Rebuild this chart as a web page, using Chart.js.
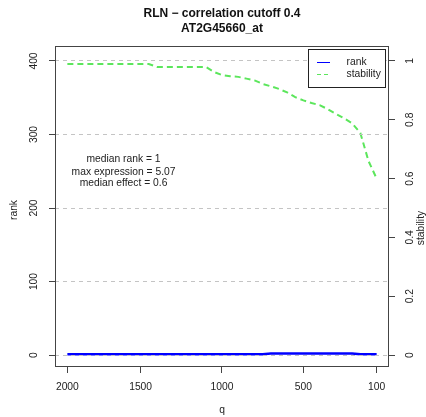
<!DOCTYPE html>
<html><head><meta charset="utf-8">
<script src="https://cdn.jsdelivr.net/npm/chart.js@4/dist/chart.umd.min.js"></script>
<style>html,body{margin:0;padding:0;background:#fff;}canvas{display:block;}</style>
</head><body>
<canvas id="c" width="426" height="417"></canvas>
<script>
// ---- data ----
const titleLines = ['RLN \u2212 correlation cutoff 0.4', 'AT2G45660_at'];
const qTickLabels = ['2000', '1500', '1000', '500', '100'];
const qTickIndex = [0, 9, 19, 29, 38];
const rankValues = [1,1,1,1,1,1,1,1,1,1, 1,1,1,1,1,1,1,1,1,1, 1,1,1,1,1,2,2,2,2,2, 2,2,2,2,2,2,1,1,1];
const stabilityValues = [0.99,0.99,0.99,0.99,0.99,0.99,0.99,0.99,0.99,0.99,
  0.99,0.98,0.98,0.98,0.98,0.98,0.98,0.98,0.963,0.952,
  0.948,0.946,0.94,0.934,0.922,0.914,0.905,0.893,0.877,0.866,
  0.857,0.85,0.836,0.82,0.805,0.788,0.755,0.66,0.60];
const rankTicks = [0, 100, 200, 300, 400];
const stabilityTicks = [0, 0.2, 0.4, 0.6, 0.8, 1];
const stabilityTickLabels = ['0', '0.2', '0.4', '0.6', '0.8', '1'];
const noteLines = ['median rank = 1', 'max expression = 5.07', 'median effect = 0.6'];
const seriesNames = ['rank', 'stability'];
const axisTitles = {x: 'q', y: 'rank', y2: 'stability'};

// ---- layout constants ----
const FONT = '"Liberation Sans", Arial, sans-serif';
const TXT = '#222';
const idx = rankValues.map((_, i) => i);
const noteIndex = 6.9, noteRank = [266, 248.5, 233.5];

const rankPts = idx.map(i => ({x: i, y: rankValues[i]}));
const stabPts = idx.map(i => ({x: i, y: stabilityValues[i]}));

const decor = {
  id: 'decor',
  afterDraw(chart) {
    const ctx = chart.ctx, a = chart.chartArea;
    const sy = chart.scales.y, sy2 = chart.scales.y2, sx = chart.scales.x;
    ctx.save();
    // box
    ctx.strokeStyle = '#444'; ctx.lineWidth = 1; ctx.setLineDash([]);
    ctx.strokeRect(Math.round(a.left) + 0.5, Math.round(a.top) + 0.5, Math.round(a.right - a.left) - 1, Math.round(a.bottom - a.top) - 1);
    // title
    ctx.fillStyle = '#111';
    ctx.font = 'bold 12px ' + FONT;
    ctx.textAlign = 'center'; ctx.textBaseline = 'middle';
    const cx = (a.left + a.right) / 2;
    ctx.fillText(titleLines[0], cx, 14);
    ctx.fillText(titleLines[1], cx, 28.5);
    // rotated tick labels
    ctx.font = '10.3px ' + FONT; ctx.fillStyle = TXT;
    const rot = (t, x, y) => { ctx.save(); ctx.translate(x, y); ctx.rotate(-Math.PI / 2); ctx.fillText(t, 0, 0); ctx.restore(); };
    rankTicks.forEach(v => rot(String(v), 34, sy.getPixelForValue(v)));
    stabilityTicks.forEach((v, k) => rot(stabilityTickLabels[k], 410.5, sy2.getPixelForValue(v)));
    rot(axisTitles.y, 14, 210);
    rot(axisTitles.y2, 421, 228);
    ctx.fillText(axisTitles.x, cx, 410);
    // notes
    noteLines.forEach((t, k) => ctx.fillText(t, sx.getPixelForValue(noteIndex), sy.getPixelForValue(noteRank[k])));
    // legend
    const ds = chart.data.datasets;
    ctx.fillStyle = '#fff';
    ctx.fillRect(308.5, 49.5, 77, 38);
    ctx.strokeStyle = '#222'; ctx.lineWidth = 1;
    ctx.strokeRect(308.5, 49.5, 77, 38);
    ctx.textAlign = 'left';
    const ly = [62.5, 74.5];
    ds.forEach((d, k) => {
      ctx.beginPath();
      ctx.strokeStyle = d.borderColor; ctx.lineWidth = 1;
      ctx.setLineDash(k === 1 ? [4, 3] : []);
      ctx.moveTo(317, ly[k]); ctx.lineTo(330, ly[k]); ctx.stroke();
      ctx.setLineDash([]);
      ctx.fillStyle = TXT;
      ctx.fillText(d.label, 346.5, ly[k] - 0.5);
    });
    ctx.restore();
  }
};

new Chart(document.getElementById('c'), {
  type: 'line',
  data: {
    datasets: [
      {label: seriesNames[0], data: rankPts, yAxisID: 'y', borderColor: '#0000ff', borderWidth: 2.5, pointRadius: 0, tension: 0, fill: false},
      {label: seriesNames[1], data: stabPts, yAxisID: 'y2', borderColor: '#5ce65c', borderWidth: 2, borderDash: [6, 4], pointRadius: 0, tension: 0, fill: false}
    ]
  },
  options: {
    responsive: false, animation: false, devicePixelRatio: 1,
    layout: {padding: {top: 46, left: 0, right: 0, bottom: 0}},
    plugins: {legend: {display: false}, title: {display: false}, tooltip: {enabled: false}},
    scales: {
      x: {
        type: 'linear', min: -1.52, max: 39.52,
        afterBuildTicks: s => { s.ticks = qTickIndex.map(v => ({value: v})); },
        afterFit: s => { s.height = 50; },
        ticks: {autoSkip: false, maxRotation: 0, padding: 8, color: TXT, font: {size: 10.3, family: FONT},
          callback: v => { const k = qTickIndex.indexOf(v); return k >= 0 ? qTickLabels[k] : ''; }},
        grid: {drawOnChartArea: false, drawTicks: true, tickLength: 6, tickColor: '#444'},
        border: {display: false}
      },
      y: {
        type: 'linear', position: 'left', min: -16.3, max: 420.4,
        afterBuildTicks: s => { s.ticks = rankTicks.map(v => ({value: v})); },
        afterFit: s => { s.width = 55; },
        ticks: {callback: () => '', padding: 0},
        grid: {color: '#c4c4c4', lineWidth: 1, drawTicks: true, tickLength: 6, tickColor: '#444', tickBorderDash: [], z: 1},
        border: {display: false, dash: [4, 4]}
      },
      y2: {
        type: 'linear', position: 'right', min: -0.04075, max: 1.051,
        afterBuildTicks: s => { s.ticks = stabilityTicks.map(v => ({value: v})); },
        afterFit: s => { s.width = 37; },
        ticks: {callback: () => '', padding: 0},
        grid: {drawOnChartArea: false, drawTicks: true, tickLength: 6, tickColor: '#444'},
        border: {display: false}
      }
    }
  },
  plugins: [decor]
});
</script>
</body></html>
